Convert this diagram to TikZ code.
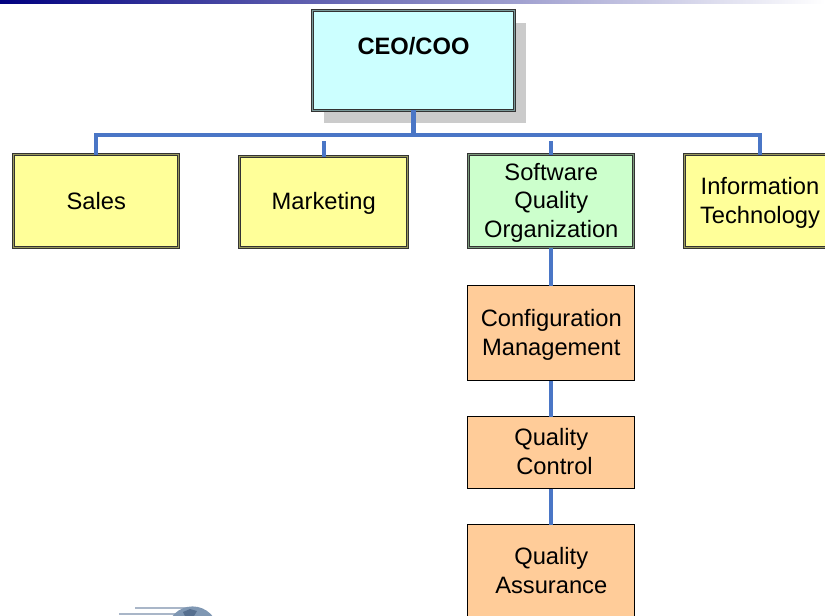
\documentclass[tikz,border=0pt]{standalone}
\usepackage{fontspec}
\setmainfont{Liberation Sans}
\usetikzlibrary{shadows}
\definecolor{paleyellow}{HTML}{FFFF99}
\definecolor{palecyan}{HTML}{CCFFFF}
\definecolor{palegreen}{HTML}{CCFFCC}
\definecolor{paleorange}{HTML}{FFCC99}
\definecolor{linkblue}{HTML}{4A76C6}
\definecolor{shadowgray}{HTML}{CBCBCB}
\definecolor{globeblue}{HTML}{7F97B3}
\definecolor{landblue}{HTML}{566F8F}
\definecolor{speedgray}{HTML}{A9B6C8}
\newcommand{\toppad}{\rule{0pt}{20.5pt}}
\newcommand{\botpad}{\rule[-2pt]{0pt}{1pt}}
\begin{document}
\begin{tikzpicture}[x=1pt,y=-1pt,
    unit/.style={rectangle,inner sep=0pt,outer sep=0pt,align=center,text=black,
      font=\fontsize{23.7}{28.5}\selectfont},
    dept/.style={unit,draw=black!80,double=#1!60!black,double distance=1.2pt,line width=0.8pt,fill=#1},
    group/.style={unit,draw=black,line width=0.8pt,fill=paleorange,minimum width=167pt},
    link/.style={draw=linkblue,line width=4.3pt}]
  \useasboundingbox (0,0) rectangle (825,616);
  \shade[left color=blue!50!black,right color=white] (0,0) rectangle (825,3);
  \begin{scope}
    \clip (100,600) rectangle (230,616);
    \draw[speedgray,line width=2pt] (135,608) -- (195,608);
    \draw[speedgray,line width=2pt] (119,614) -- (180,614);
    \fill[globeblue] (192.5,632) circle (25.6);
    \fill[landblue] (183,612) -- (190,609) -- (197,611) -- (194,616) -- (185,616) -- cycle;
  \end{scope}
  \node[dept=palecyan,minimum width=202pt,minimum height=99.4pt,text height=44pt,text depth=55.4pt,
    drop shadow={shadow xshift=11.5pt,shadow yshift=-12.5pt,fill=shadowgray,opacity=1}] (ceo) at (413.5,60.5) {\bfseries CEO/COO};
  \node[dept=paleyellow,minimum width=165pt,minimum height=93pt] (sales) at (96.25,201) {Sales};
  \node[dept=paleyellow,minimum width=168pt,minimum height=91pt] (marketing) at (323.75,202) {\toppad Marketing};
  \node[dept=palegreen,minimum width=165pt,minimum height=93pt] (squality) at (551.25,201) {\toppad Software\\Quality\\Organization};
  \node[dept=paleyellow,minimum width=151pt,minimum height=93pt] (infotech) at (760,201) {\toppad Information\\Technology};
  \node[group,minimum height=95pt] (config) at (551.25,333) {\toppad Configuration\\Management};
  \node[group,minimum height=72pt] (qcontrol) at (551.25,452.5) {Quality\\~Control\botpad};
  \node[group,minimum height=94pt] (qassure) at (551.25,571.5) {Quality\\Assurance\botpad};
  \coordinate (bar) at (ceo.south |- 0,135);
  \coordinate (mtop) at (marketing.north |- 0,141);
  \coordinate (stop) at (squality.north |- 0,141);
  \draw[link] (ceo.south) -- (bar);
  \draw[link] (sales.north) |- (bar) -| (infotech.north);
  \draw[link] (mtop) -- (marketing.north);
  \draw[link] (stop) -- (squality.north);
  \draw[link] (squality.south) -- (config.north);
  \draw[link] (config.south) -- (qcontrol.north);
  \draw[link] (qcontrol.south) -- (qassure.north);
\end{tikzpicture}
\end{document}
